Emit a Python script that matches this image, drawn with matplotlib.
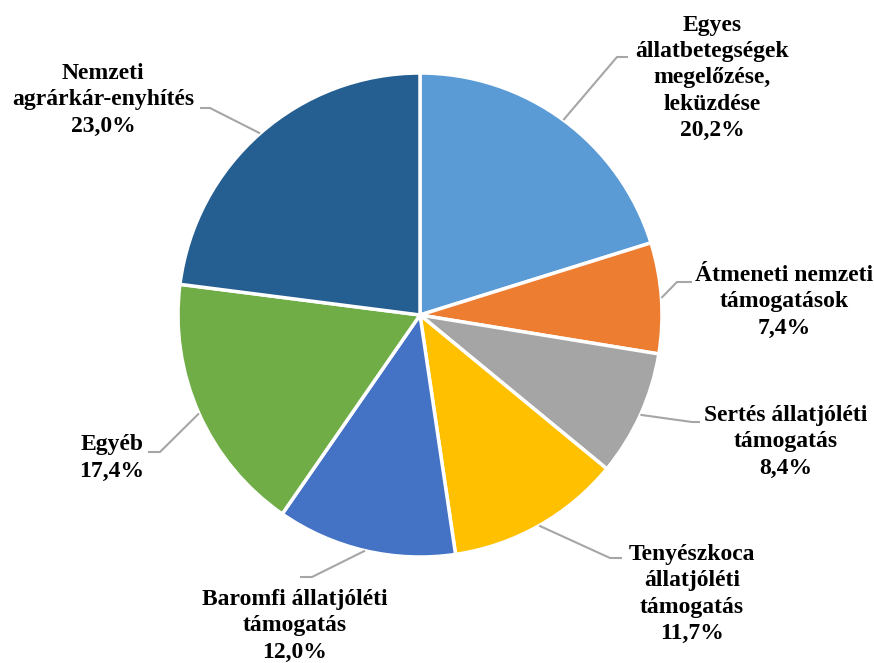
import numpy as np
import matplotlib
matplotlib.use('Agg')
import matplotlib.pyplot as plt

# adatok
labels = ['Egyes\nállatbetegségek\nmegelőzése,\nleküzdése',
          'Átmeneti nemzeti\ntámogatások',
          'Sertés állatjóléti\ntámogatás',
          'Tenyészkoca\nállatjóléti\ntámogatás',
          'Baromfi állatjóléti\ntámogatás',
          'Egyéb',
          'Nemzeti\nagrárkár-enyhítés']
values = [20.2, 7.4, 8.4, 11.7, 12.0, 17.4, 23.0]
colors = ['#5B9BD5', '#ED7D31', '#A5A5A5', '#FFC000', '#4472C4', '#70AD47', '#255E91']

W, H = 874, 663
cx, cy, R = 420, 315, 242

# címkék helye (pixel), törésponttal
label_pos = [(712, 78), (784, 302), (786, 442), (692, 594), (295, 626), (112, 458), (103, 100)]
elbow = [((617, 57), (628, 57)), ((677, 282), (692, 282)), ((692, 422), (700, 422)),
         ((610, 558), (622, 558)), ((312, 577), (300, 577)), ((160, 452), (148, 452)),
         ((210, 108), (200, 108))]


def fy(py):
    return H - py


fig = plt.figure(figsize=(W / 100, H / 100), dpi=100)
ax = fig.add_axes([0, 0, 1, 1])

wedges, _ = ax.pie(values, colors=colors, startangle=90, counterclock=False,
                   center=(cx, fy(cy)), radius=R,
                   wedgeprops=dict(edgecolor='white', linewidth=2.5))
ax.set_xlim(0, W)
ax.set_ylim(0, H)
ax.set_aspect('equal')
ax.axis('off')

for i, w in enumerate(wedges):
    mid = np.deg2rad((w.theta1 + w.theta2) / 2)
    x0 = cx + R * np.cos(mid)
    y0 = fy(cy) + R * np.sin(mid)
    (ex, ey), (tx, ty) = elbow[i]
    ax.plot([x0, ex, tx], [y0, fy(ey), fy(ty)], color='#A6A6A6', lw=1.5,
            solid_capstyle='butt')
    txt = labels[i] + '\n' + f'{values[i]:.1f}'.replace('.', ',') + '%'
    lx, ly = label_pos[i]
    ax.text(lx, fy(ly), txt, ha='center', va='center', multialignment='center',
            fontsize=17, fontweight='bold', family='Liberation Serif',
            linespacing=1.32)

fig.savefig('out.png', dpi=100)
